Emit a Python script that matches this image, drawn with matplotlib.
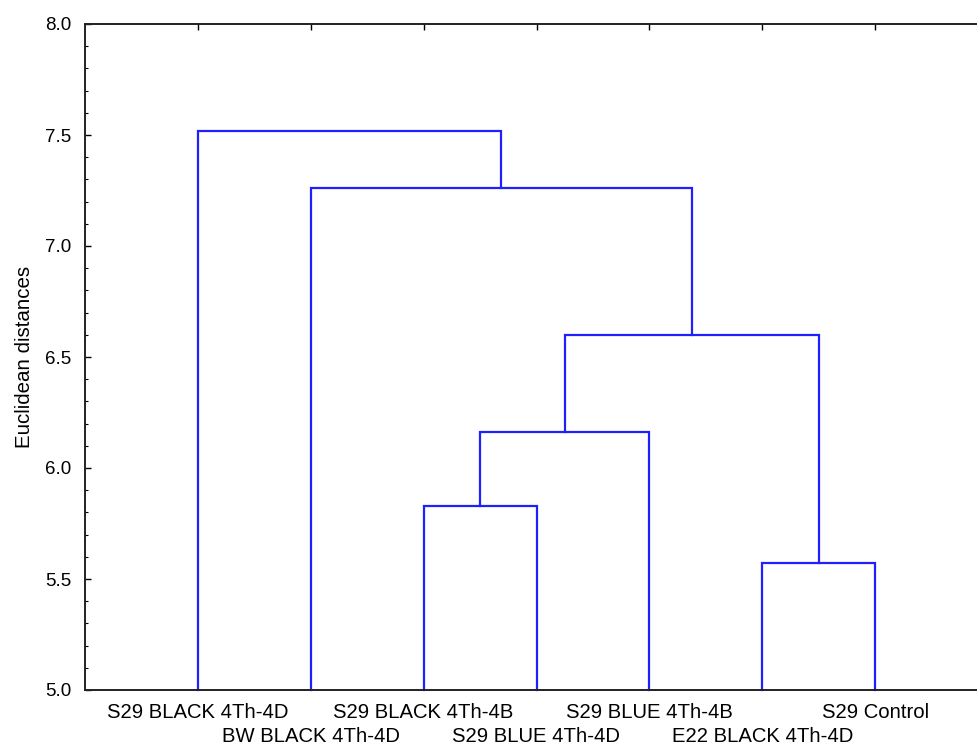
import matplotlib
matplotlib.use("Agg")
import matplotlib.pyplot as plt
from matplotlib.ticker import MultipleLocator

plt.rcParams['font.family'] = ['Liberation Sans', 'DejaVu Sans']

# Leaves in dendrogram order
leaf_labels = ["S29 BLACK 4Th-4D", "BW BLACK 4Th-4D", "S29 BLACK 4Th-4B",
               "S29 BLUE 4Th-4D", "S29 BLUE 4Th-4B", "E22 BLACK 4Th-4D",
               "S29 Control"]
# Merges: (left member, right member, linkage distance); members are leaf
# indices (0-based) or "c<k>" for the k-th previously formed cluster
merge_left = [2, 5, "c0", "c2", 1, 0]
merge_right = [3, 6, 4, "c1", "c3", "c4"]
merge_height = [5.83, 5.57, 6.16, 6.60, 7.26, 7.52]

line_color = "#2020ff"

fig = plt.figure(figsize=(9.77, 7.47), dpi=100)
W, H = 977, 747
left_px, right_px, top_px, bottom_px = 85, 988, 24, 690
ax = fig.add_axes([left_px / W, 1 - bottom_px / H,
                   (right_px - left_px) / W, (bottom_px - top_px) / H])

leaf_x = list(range(1, len(leaf_labels) + 1))

def member_pos(m, clusters):
    if isinstance(m, str):
        return clusters[int(m[1:])]
    return (leaf_x[m], ax.get_ylim()[0])

ax.set_xlim(0, len(leaf_labels) + 1)
ax.set_ylim(5.0, 8.0)

clusters = []
for l, r, h in zip(merge_left, merge_right, merge_height):
    xl, yl = member_pos(l, clusters)
    xr, yr = member_pos(r, clusters)
    ax.plot([xl, xl, xr, xr], [yl, h, h, yr], color=line_color, lw=1.6,
            solid_joinstyle='miter', clip_on=False)
    clusters.append(((xl + xr) / 2, h))

ax.set_xticks(leaf_x)
ax.set_xticklabels([])
ax.tick_params(axis='x', which='both', direction='in', top=True, bottom=False,
               length=4, width=1)
trans = ax.get_xaxis_transform()
for i, (x, lab) in enumerate(zip(leaf_x, leaf_labels)):
    off = -23 if i % 2 == 0 else -47
    ax.annotate(lab, xy=(x, 0), xycoords=trans, xytext=(0, off),
                textcoords='offset pixels', ha='center', va='center',
                fontsize=14.6, annotation_clip=False)

ax.yaxis.set_major_locator(MultipleLocator(0.5))
ax.yaxis.set_minor_locator(MultipleLocator(0.1))
ax.set_yticks([5.0, 5.5, 6.0, 6.5, 7.0, 7.5, 8.0])
ax.set_yticklabels(["5.0", "5.5", "6.0", "6.5", "7.0", "7.5", "8.0"], fontsize=13.5)
ax.tick_params(axis='y', which='major', direction='in', length=4, width=1, pad=10)
ax.tick_params(axis='y', which='minor', direction='in', length=2.5, width=0.8)
ax.set_ylabel("Euclidean distances", fontsize=14.8, labelpad=8)

for s in ax.spines.values():
    s.set_linewidth(1.4)
    s.set_color("#222222")

fig.savefig("out.png", dpi=100)
